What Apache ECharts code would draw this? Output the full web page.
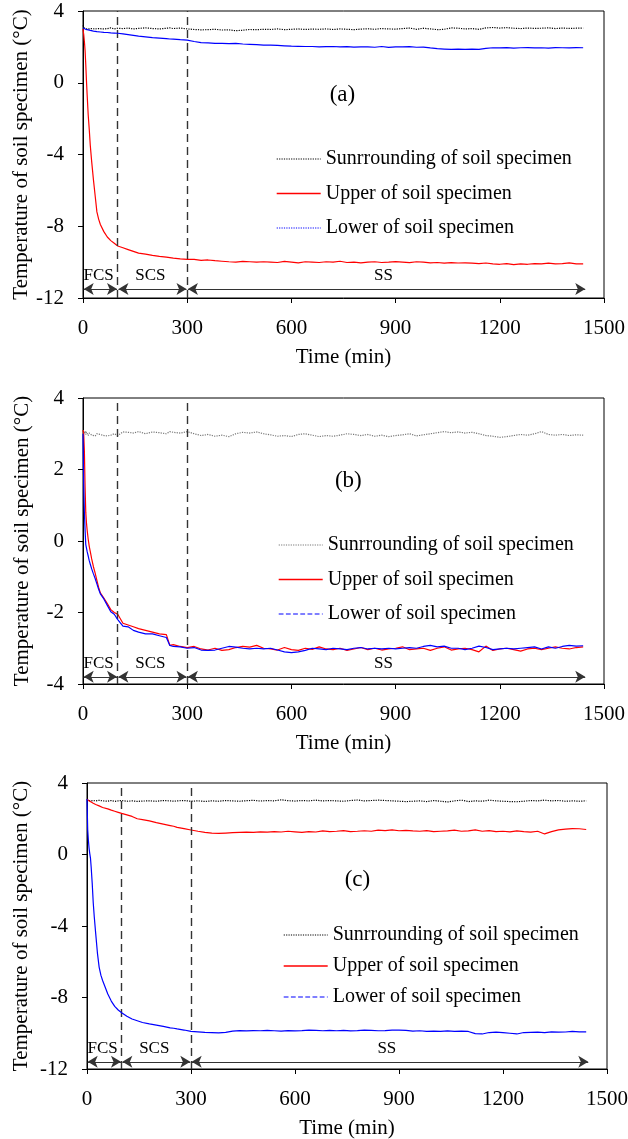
<!DOCTYPE html>
<html><head><meta charset="utf-8">
<script src="https://cdn.jsdelivr.net/npm/echarts@6/dist/echarts.min.js"></script>
<style>html,body{margin:0;padding:0;background:#fff}#c{width:628px;height:1139px}</style>
</head><body><div id="c"></div>
<script>
// time (min)
const time = [0,2,4,6,8,10,12,15,18,21,25,30,35,40,45,50,
  60,70,80,90,100,115,130,145,160,180,200,220,240,250,260,280,300,
  320,340,360,380,400,420,440,460,480,500,
  520,540,560,580,600,620,640,660,680,700,
  720,740,760,780,800,820,840,860,880,900,
  920,940,960,980,1000,1020,1040,1060,1080,1100,
  1120,1140,1160,1180,1200,1220,1240,1260,1280,1300,
  1320,1340,1360,1380,1400,1420,1440];

// Panel (a)
const surA = [3.2,3.1,3.05,3.0,3.05,3.0,3.02,3.05,3.0,2.98,3.02,3.05,3.0,2.98,3.02,3.05,
  3.0,3.02,3.06,3.0,3.04,3.02,3.05,3.0,3.03,3.06,3.02,3.0,3.04,3.06,3.02,3.05,3.0,
  2.97,2.95,2.96,2.98,2.94,2.95,2.9,2.93,2.97,2.96,
  2.98,2.97,3.0,2.96,2.98,3.0,2.97,2.99,2.98,3.0,
  2.97,3.0,2.98,2.96,2.99,3.01,2.98,3.02,3.0,2.99,
  3.02,3.05,2.98,3.04,3.0,2.96,2.98,3.06,3.04,3.0,
  3.02,2.98,3.06,3.08,3.05,3.07,3.04,3.02,3.05,3.03,
  3.04,3.06,3.02,3.05,3.03,3.04,3.05];
const upA = [3.0,2.7,2.3,1.8,1.0,0.1,-0.7,-1.8,-2.6,-3.5,-4.4,-5.4,-6.3,-7.2,-7.6,-7.9,
  -8.3,-8.6,-8.8,-8.95,-9.1,-9.2,-9.3,-9.4,-9.5,-9.55,-9.62,-9.68,-9.72,-9.75,-9.78,-9.82,-9.85,
  -9.85,-9.9,-9.88,-9.92,-9.95,-9.98,-10.0,-9.96,-9.98,-10.0,
  -9.98,-10.0,-10.02,-9.96,-10.0,-10.04,-9.98,-10.0,-10.02,-9.98,
  -10.0,-9.95,-10.02,-10.0,-10.04,-10.0,-9.98,-10.02,-10.0,-9.97,
  -10.0,-10.03,-9.98,-10.0,-10.04,-10.02,-10.06,-10.03,-10.05,-10.04,
  -10.06,-10.08,-10.05,-10.1,-10.12,-10.08,-10.14,-10.1,-10.12,-10.08,
  -10.1,-10.06,-10.1,-10.08,-10.04,-10.1,-10.1];
const lowA = [3.05,3.02,3.0,3.0,2.98,2.97,2.96,2.95,2.93,2.92,2.9,2.88,2.86,2.85,2.84,2.83,
  2.81,2.8,2.78,2.77,2.76,2.72,2.68,2.64,2.6,2.56,2.52,2.49,2.46,2.44,2.43,2.4,2.38,
  2.3,2.24,2.22,2.2,2.2,2.18,2.2,2.16,2.14,2.12,
  2.1,2.1,2.08,2.06,2.04,2.03,2.02,2.02,2.0,2.01,
  2.02,2.0,2.01,1.99,2.0,2.0,1.98,2.02,1.97,2.0,
  2.0,2.01,1.98,1.99,1.94,1.9,1.88,1.86,1.87,1.86,
  1.88,1.86,1.92,1.95,1.94,1.96,1.93,1.95,1.96,1.94,
  1.95,1.93,1.96,1.95,1.94,1.96,1.95];

// Panel (b)
const surB = [3.1,3.05,3.0,3.08,2.98,3.05,3.0,2.95,3.02,2.98,2.96,3.0,2.94,3.0,2.96,2.98,
  2.95,2.94,2.96,3.0,2.95,3.05,3.04,3.02,3.06,3.0,3.05,3.03,3.0,3.06,3.04,3.02,3.06,
  3.0,2.95,2.98,2.93,2.96,2.92,3.0,3.04,3.02,3.05,
  3.0,2.97,2.93,2.95,2.92,2.98,3.0,2.96,2.92,2.95,
  2.93,2.96,3.0,2.98,2.95,2.98,2.93,2.96,2.92,2.95,
  2.97,3.0,2.94,2.97,3.0,3.03,3.06,3.03,3.05,3.02,
  3.04,3.0,2.95,2.93,2.9,2.92,2.95,2.98,2.96,3.0,
  3.06,2.98,2.96,2.98,2.95,2.97,2.96];
const upB = [3.1,3.0,2.5,1.5,0.8,0.5,0.3,0.05,-0.15,-0.3,-0.5,-0.72,-0.9,-1.1,-1.3,-1.45,
  -1.6,-1.75,-1.92,-2.0,-2.05,-2.3,-2.35,-2.4,-2.45,-2.5,-2.55,-2.6,-2.62,-2.92,-2.9,-2.95,-2.98,
  -2.95,-3.02,-3.05,-3.0,-3.06,-3.04,-2.98,-2.95,-2.97,-2.92,
  -3.0,-3.02,-3.05,-2.98,-3.04,-3.06,-3.0,-3.03,-2.96,-3.02,
  -3.04,-3.0,-3.06,-3.02,-2.98,-3.04,-3.0,-3.05,-3.02,-3.0,
  -2.96,-3.04,-3.02,-3.0,-3.06,-3.0,-2.96,-3.05,-3.02,-3.0,
  -3.04,-3.1,-2.94,-3.06,-3.02,-3.0,-3.04,-3.08,-3.02,-3.0,
  -3.04,-3.0,-2.96,-3.0,-3.02,-2.98,-2.96];
const lowB = [3.0,1.6,0.8,0.3,-0.1,-0.2,-0.3,-0.42,-0.55,-0.65,-0.78,-0.92,-1.05,-1.2,-1.35,-1.48,
  -1.62,-1.8,-1.98,-2.05,-2.2,-2.38,-2.4,-2.5,-2.55,-2.6,-2.6,-2.65,-2.7,-2.92,-2.95,-2.96,-3.0,
  -2.98,-3.05,-3.06,-3.05,-3.0,-2.95,-2.97,-3.0,-3.02,-3.0,
  -3.02,-3.0,-3.05,-3.1,-3.12,-3.1,-3.06,-3.0,-3.02,-3.04,
  -3.0,-3.02,-3.04,-3.0,-2.98,-3.02,-3.0,-3.02,-3.0,-3.02,
  -3.0,-2.98,-3.0,-2.95,-2.92,-2.96,-2.94,-3.0,-3.0,-3.04,
  -3.0,-2.94,-2.98,-3.04,-3.02,-3.0,-3.02,-3.0,-2.98,-2.96,
  -3.02,-2.96,-3.0,-2.95,-2.92,-2.94,-2.93];

// Panel (c)
const surC = [3.1,3.05,3.0,3.02,2.98,3.05,3.0,2.96,3.02,2.98,3.0,2.95,3.03,2.98,3.0,3.02,
  2.98,3.02,2.97,3.0,3.02,2.98,3.0,2.97,2.99,3.0,2.98,3.02,3.0,2.98,3.0,3.02,2.98,
  3.0,2.97,3.0,2.98,3.02,3.0,2.98,3.01,3.03,2.99,
  3.02,3.0,3.06,3.01,2.99,3.02,3.0,3.04,3.0,3.02,
  3.0,2.98,3.02,3.05,3.0,3.02,3.04,3.02,3.0,2.98,
  2.96,2.98,3.0,2.96,3.02,2.98,2.94,3.0,3.04,2.96,
  3.0,2.98,3.04,3.0,2.98,2.96,2.95,2.98,3.02,3.0,
  3.04,3.0,3.02,2.98,3.0,2.98,3.0];
const upC = [3.1,3.08,3.03,3.0,2.98,2.96,2.94,2.9,2.87,2.84,2.8,2.76,2.72,2.67,2.63,2.6,
  2.55,2.48,2.42,2.36,2.3,2.22,2.13,2.0,1.95,1.88,1.78,1.7,1.62,1.58,1.52,1.45,1.37,
  1.3,1.24,1.2,1.18,1.2,1.22,1.24,1.25,1.24,1.27,
  1.25,1.28,1.26,1.3,1.27,1.24,1.28,1.26,1.32,1.28,
  1.3,1.34,1.28,1.3,1.33,1.3,1.36,1.34,1.38,1.33,
  1.35,1.32,1.3,1.34,1.28,1.3,1.32,1.36,1.3,1.32,
  1.38,1.3,1.34,1.28,1.3,1.27,1.32,1.28,1.25,1.3,
  1.15,1.28,1.38,1.42,1.45,1.44,1.4];
const lowC = [3.1,1.4,0.8,0.35,0.05,-0.2,-0.7,-1.6,-2.7,-3.5,-4.4,-5.5,-6.3,-6.75,-7.05,-7.3,
  -7.8,-8.2,-8.5,-8.7,-8.85,-9.05,-9.2,-9.3,-9.4,-9.48,-9.55,-9.62,-9.7,-9.72,-9.76,-9.82,-9.9,
  -9.92,-9.95,-9.96,-9.98,-9.95,-9.88,-9.85,-9.87,-9.85,-9.86,
  -9.84,-9.86,-9.88,-9.85,-9.87,-9.85,-9.82,-9.84,-9.86,-9.84,
  -9.86,-9.84,-9.87,-9.85,-9.82,-9.84,-9.86,-9.85,-9.83,-9.82,
  -9.84,-9.88,-9.86,-9.9,-9.88,-9.9,-9.87,-9.9,-9.88,-9.9,
  -10.02,-10.04,-9.96,-9.94,-9.97,-10.0,-10.04,-9.96,-9.95,-9.94,
  -9.96,-9.92,-9.94,-9.93,-9.9,-9.92,-9.92];

const xTicks = [0,300,600,900,1200,1500];
const stageNames = ['FCS','SCS','SS'];
const stageBounds = [0,100,300,1440];
const panelTags = ['(a)','(b)','(c)'];
const NAME_S = 'Sunrrounding of soil specimen';
const NAME_U = 'Upper of soil specimen';
const NAME_L = 'Lower of soil specimen';

const F = '"Liberation Serif","Times New Roman",serif';
const pairs = v => time.map((t,i)=>[t, v[i]]);

const panels = [
  {sur:surA, up:upA, low:lowA, ymin:-12, ymax:4, yint:4, arrowY:-11.5, labY:-10.75,
   tag:[747,-0.7], grid:{left:83,top:11,width:521,height:287}, yGap:51,
   legend:{left:276,top:149,gap:14.5}, surColor:'#000', legLow:'dotted', legSur:'dotted'},
  {sur:surB, up:upB, low:lowB, ymin:-4, ymax:4, yint:2, arrowY:-3.8, labY:-3.42,
   tag:[764,1.68], grid:{left:83,top:398,width:521,height:286}, yGap:50,
   legend:{left:278,top:535,gap:14.5}, surColor:'#777', legLow:'dashed', legSur:'dotted'},
  {sur:surC, up:upC, low:lowC, ymin:-12, ymax:4, yint:4, arrowY:-11.6, labY:-10.84,
   tag:[780,-1.43], grid:{left:87,top:783,width:520,height:286}, yGap:55,
   legend:{left:283,top:925,gap:11}, surColor:'#000', legLow:'dashed', legSur:'dotted'}
];

const grids=[], xAxes=[], yAxes=[], series=[], legends=[];
panels.forEach((p,i)=>{
  grids.push(Object.assign({show:true,borderColor:'#000',borderWidth:1,backgroundColor:'transparent',
    containLabel:false, outerBoundsMode:'none'}, p.grid));
  xAxes.push({type:'value', gridIndex:i, min:xTicks[0], max:xTicks[xTicks.length-1], interval:300,
    axisLine:{show:true,onZero:false,lineStyle:{color:'#000',width:1}},
    axisTick:{show:true,inside:false,length:5,lineStyle:{color:'#000'}},
    axisLabel:{color:'#000',fontSize:21,fontFamily:F,margin:20,formatter:v=>String(v)},
    splitLine:{show:false},
    name:'Time (min)', nameLocation:'middle', nameGap:49, nameMoveOverlap:false,
    nameTextStyle:{color:'#000',fontSize:21,fontFamily:F}});
  yAxes.push({type:'value', gridIndex:i, min:p.ymin, max:p.ymax, interval:p.yint,
    axisLine:{show:true,onZero:false,lineStyle:{color:'#000',width:1}},
    axisTick:{show:true,inside:false,length:5,lineStyle:{color:'#000'}},
    axisLabel:{color:'#000',fontSize:21,fontFamily:F,margin:19,formatter:v=>String(v)},
    splitLine:{show:false},
    name:'Temperature of soil specimen (°C)', nameLocation:'middle', nameGap:p.yGap, nameMoveOverlap:false,
    nameTextStyle:{color:'#000',fontSize:21,fontFamily:F}});
  // Surrounding
  series.push({type:'line', name:NAME_S, xAxisIndex:i, yAxisIndex:i, data:pairs(p.sur),
    symbol:'none', lineStyle:{color:p.surColor,width:1.2,type:'dotted'}, itemStyle:{color:p.surColor},
    z:3,
    markLine:{silent:true, symbol:'none', label:{show:false},
      lineStyle:{color:'#333',width:1.4,type:[8,5]},
      data:[{xAxis:stageBounds[1]},{xAxis:stageBounds[2]}]}});
  // Upper
  series.push({type:'line', name:NAME_U, xAxisIndex:i, yAxisIndex:i, data:pairs(p.up),
    symbol:'none', lineStyle:{color:'#ff0000',width:1.2}, itemStyle:{color:'#ff0000'}, z:4,
    markPoint:{silent:true, symbol:'rect', symbolSize:1, itemStyle:{color:'rgba(0,0,0,0)'},
      label:{show:true, position:'inside', color:'#000', fontFamily:F, fontSize:17, formatter:q=>q.name},
      data:[
        {name:stageNames[0], coord:[45,p.labY]},
        {name:stageNames[1], coord:[194,p.labY]},
        {name:stageNames[2], coord:[865,p.labY]},
        {name:panelTags[i], coord:p.tag, label:{fontSize:23}}
      ]}});
  // Lower
  series.push({type:'line', name:NAME_L, xAxisIndex:i, yAxisIndex:i, data:pairs(p.low),
    symbol:'none', lineStyle:{color:'#0000ff',width:1.2}, itemStyle:{color:'#0000ff'}, z:5,
    markLine:{silent:true, symbol:['arrow','arrow'], symbolSize:[9,10], label:{show:false},
      lineStyle:{color:'#333',width:1.2,type:'solid'},
      data:[
        [{coord:[stageBounds[0]+2,p.arrowY]},{coord:[stageBounds[1]-2,p.arrowY]}],
        [{coord:[stageBounds[1]+2,p.arrowY]},{coord:[stageBounds[2]-2,p.arrowY]}],
        [{coord:[stageBounds[2]+2,p.arrowY]},{coord:[stageBounds[3]+6,p.arrowY]}]
      ]}});
  legends.push({orient:'vertical', left:p.legend.left, top:p.legend.top, padding:0, itemWidth:44, itemHeight:14,
    itemGap:p.legend.gap, selectedMode:false,
    itemStyle:{opacity:0},
    textStyle:{color:'#000',fontSize:20,fontFamily:F},
    data:[
      {name:NAME_S, lineStyle:{color:p.surColor,width:1.2,type:p.legSur}},
      {name:NAME_U, lineStyle:{color:'#ff0000',width:1.4,type:'solid'}},
      {name:NAME_L, lineStyle:{color:'#0000ff',width:1.2,type:p.legLow}}
    ]});
});

const chart = echarts.init(document.getElementById('c'), null, {renderer:'canvas'});
chart.setOption({
  animation:false,
  backgroundColor:'#fff',
  grid:grids, xAxis:xAxes, yAxis:yAxes, legend:legends, series:series
});
</script></body></html>
